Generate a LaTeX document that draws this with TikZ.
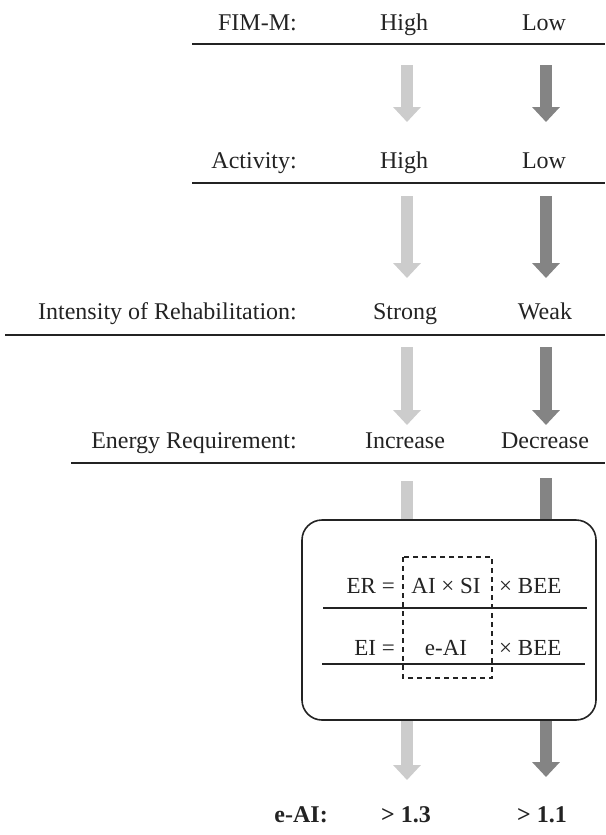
\documentclass[tikz,border=0pt]{standalone}
\usepackage{fontspec}
\setmainfont{Liberation Serif}
\usetikzlibrary{arrows.meta}
\definecolor{txt}{RGB}{35,35,35}
\definecolor{lightarr}{RGB}{204,204,204}
\definecolor{darkarr}{RGB}{132,132,132}
\tikzset{
  lbl/.style={inner sep=0pt, anchor=base east, text=txt, font=\fontsize{24}{28}\selectfont},
  val/.style={inner sep=0pt, anchor=base, text=txt, font=\fontsize{24}{28}\selectfont},
  eq/.style={inner sep=0pt, text=txt, font=\fontsize{23}{27}\selectfont},
  boldv/.style={inner sep=0pt, anchor=base, text=txt, font=\fontsize{24}{28}\selectfont\bfseries},
  rule/.style={line width=2.2pt, draw=txt},
  inrule/.style={line width=2pt, draw=txt},
  arr/.style={line width=12pt, -{Triangle[width=27pt,length=15pt]}},
  shaft/.style={line width=12pt},
  lt/.style={draw=lightarr, color=lightarr},
  dk/.style={draw=darkarr, color=darkarr}
}
\begin{document}
\begin{tikzpicture}[x=1pt,y=-1pt]
\useasboundingbox (0,0) rectangle (605,835);
% rows
\node[lbl] (l1) at (297,30) {FIM-M:};
\node[val] (h1) at (404,30) {High};
\node[val] (w1) at (544,30) {Low};
\draw[rule] (192,44) coordinate (r1a) -- (605,44) coordinate (r1b);

\node[lbl] (l2) at (297,168) {Activity:};
\node[val] (h2) at (404,168) {High};
\node[val] (w2) at (544,168) {Low};
\draw[rule] (192,183) coordinate (r2a) -- (605,183) coordinate (r2b);

\node[lbl] (l3) at (297,319) {Intensity of Rehabilitation:};
\node[val] (h3) at (405,319) {Strong};
\node[val] (w3) at (545,319) {Weak};
\draw[rule] (5,335) coordinate (r3a) -- (605,335) coordinate (r3b);

\node[lbl] (l4) at (297,448) {Energy Requirement:};
\node[val] (h4) at (405,448) {Increase};
\node[val] (w4) at (545,448) {Decrease};
\draw[rule] (71,463) coordinate (r4a) -- (605,463) coordinate (r4b);

% arrows
\coordinate (a1ls) at (407,65);  \coordinate (a1le) at (407,122);
\coordinate (a1ds) at (546,65);  \coordinate (a1de) at (546,122);
\coordinate (a2ls) at (407,196); \coordinate (a2le) at (407,278);
\coordinate (a2ds) at (546,196); \coordinate (a2de) at (546,278);
\coordinate (a3ls) at (407,347); \coordinate (a3le) at (407,425);
\coordinate (a3ds) at (546,347); \coordinate (a3de) at (546,425);
\coordinate (a4ls) at (407,481); \coordinate (a4le) at (407,540);
\coordinate (a4ds) at (546,478); \coordinate (a4de) at (546,540);
\coordinate (a5ls) at (407,700); \coordinate (a5le) at (407,780);
\coordinate (a5ds) at (546,700); \coordinate (a5de) at (546,777);
\draw[arr,lt] (a1ls) -- (a1le);
\draw[arr,dk] (a1ds) -- (a1de);
\draw[arr,lt] (a2ls) -- (a2le);
\draw[arr,dk] (a2ds) -- (a2de);
\draw[arr,lt] (a3ls) -- (a3le);
\draw[arr,dk] (a3ds) -- (a3de);
\draw[shaft,lt] (a4ls) -- (a4le);
\draw[shaft,dk] (a4ds) -- (a4de);
\draw[arr,lt] (a5ls) -- (a5le);
\draw[arr,dk] (a5ds) -- (a5de);

% box
\node[draw=txt, line width=1.6pt, fill=white, rounded corners=20pt,
      minimum width=294pt, minimum height=200pt, inner sep=0pt] (box) at (449,620) {};
\node[eq, anchor=base east] (er) at (395,593) {ER =};
\node[eq, anchor=base] (aisi) at (446,593) {AI × SI};
\node[eq, anchor=base west] (bee1) at (499,593) {× BEE};
\draw[inrule] (323,608) coordinate (ir1a) -- (587,608) coordinate (ir1b);
\node[eq, anchor=base east] (ei) at (395,655) {EI =};
\node[eq, anchor=base] (eai) at (446,655) {e-AI};
\node[eq, anchor=base west] (bee2) at (499,655) {× BEE};
\draw[inrule] (322,664) coordinate (ir2a) -- (585,664) coordinate (ir2b);
\draw[txt, line width=1.6pt, dash pattern=on 5pt off 4pt] (403,557) rectangle (492,678);

% bottom
\node[boldv, anchor=base east] (eail) at (328,822) {e-AI:};
\node[boldv] (v1) at (406,822) {> 1.3};
\node[boldv] (v2) at (542,822) {> 1.1};
\end{tikzpicture}
\end{document}
